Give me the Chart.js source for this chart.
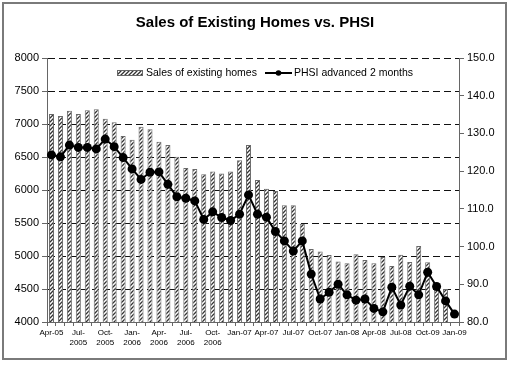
<html>
    <head>
        <title>Sales of Existing Homes vs. PHSI</title>
        <script src="https://cdn.jsdelivr.net/npm/chart.js@4.4.1/dist/chart.umd.min.js"></script>
        <style>
            body { margin: 0; background: #fff; }
            .chart-container { position: relative; width: 510px; height: 365px; }
        </style>
    </head>
    <body>
        <div class="chart-container">
            <canvas id="myChart" width="510" height="365"></canvas>
        </div>
    <script type="text/javascript">
    // monthly categories, Apr-05 .. Jan-09
    var months = ['Apr-05','May-05','Jun-05','Jul-05','Aug-05','Sep-05','Oct-05','Nov-05','Dec-05',
        'Jan-06','Feb-06','Mar-06','Apr-06','May-06','Jun-06','Jul-06','Aug-06','Sep-06','Oct-06','Nov-06','Dec-06',
        'Jan-07','Feb-07','Mar-07','Apr-07','May-07','Jun-07','Jul-07','Aug-07','Sep-07','Oct-07','Nov-07','Dec-07',
        'Jan-08','Feb-08','Mar-08','Apr-08','May-08','Jun-08','Jul-08','Aug-08','Sep-08','Oct-08','Nov-08','Dec-08','Jan-09'];

    // labels shown under every third month (as printed on the original)
    var tickLabels = ['Apr-05', ['Jul-','2005'], ['Oct-','2005'], ['Jan-','2006'], ['Apr-','2006'], ['Jul-','2006'], ['Oct-','2006'],
        'Jan-07','Apr-07','Jul-07','Oct-07','Jan-08','Apr-08','Jul-08','Oct-09','Jan-09'];

    // sales of existing homes (thousands, left axis)
    var sales = [7150,7120,7200,7150,7210,7225,7080,7025,6820,6760,6960,6920,6730,6680,6505,6335,6320,6240,6280,6250,
        6280,6450,6680,6150,6020,5985,5770,5770,5490,5105,5070,5015,4915,4890,5025,4940,4890,4985,4850,5020,
        4910,5150,4905,4550,4500,null];

    // PHSI advanced 2 months (right axis)
    var phsi = [124.3,123.8,126.9,126.3,126.3,125.9,128.5,126.5,123.6,120.6,117.8,119.7,119.8,116.5,113.2,112.8,
        112.1,107.2,109.2,107.7,106.9,108.6,113.7,108.6,107.8,104.0,101.5,98.8,101.5,92.7,86.1,87.9,90.0,87.2,
        85.8,86.1,83.6,82.7,89.2,84.5,89.5,87.2,93.2,89.4,85.6,82.1];

    var seriesNames = ['Sales of existing homes', 'PHSI advanced 2 months'];

    var fontFamily = "'Liberation Sans', Arial, sans-serif";
    Chart.defaults.font.family = fontFamily;
    Chart.defaults.color = '#000';

    var ctx = document.getElementById('myChart').getContext('2d');

    function makeHatchTile() {
        var c = document.createElement('canvas');
        c.width = 4; c.height = 4;
        var g = c.getContext('2d');
        g.fillStyle = '#fff';
        g.fillRect(0, 0, 4, 4);
        g.strokeStyle = '#333';
        g.lineWidth = 1.3;
        g.beginPath();
        g.moveTo(0, 4); g.lineTo(4, 0);
        g.moveTo(-1, 1); g.lineTo(1, -1);
        g.moveTo(3, 5); g.lineTo(5, 3);
        g.stroke();
        return c;
    }
    var hatch = ctx.createPattern(makeHatchTile(), 'repeat');

    var framePlugin = {
        id: 'frame',
        beforeDraw: function (chart) {
            var c = chart.ctx;
            c.save();
            c.fillStyle = '#fff';
            c.fillRect(0, 0, chart.width, chart.height);
            c.strokeStyle = '#7a7a7a';
            c.lineWidth = 2;
            c.strokeRect(3, 3, 503, 356);
            c.restore();
        }
    };

    // legend sits inside the plot area, like the Excel original
    var innerLegend = {
        id: 'innerLegend',
        afterDraw: function (chart) {
            var c = chart.ctx;
            var a = chart.chartArea;
            var y = a.top + 15;
            var x = a.left + 70;
            c.save();
            c.font = '10.5px ' + fontFamily;
            c.textBaseline = 'middle';
            c.fillStyle = '#000';
            // hatched box
            c.fillStyle = hatch;
            c.fillRect(x, y - 3, 26, 6);
            c.strokeStyle = '#666';
            c.lineWidth = 1;
            c.strokeRect(x + 0.5, y - 2.5, 25, 5);
            c.fillStyle = '#000';
            c.fillText(seriesNames[0], x + 29, y);
            // line with marker
            var x2 = x + 148;
            c.strokeStyle = '#000';
            c.lineWidth = 2;
            c.beginPath(); c.moveTo(x2, y); c.lineTo(x2 + 27, y); c.stroke();
            c.beginPath(); c.arc(x2 + 13.5, y, 2.8, 0, Math.PI * 2); c.fill();
            c.fillText(seriesNames[1], x2 + 29, y);
            c.restore();
        }
    };

    var myChart = new Chart(ctx, {
        type: 'bar',
        data: {
            labels: months,
            datasets: [{
                type: 'bar',
                label: seriesNames[0],
                data: sales,
                yAxisID: 'y',
                backgroundColor: hatch,
                borderColor: '#6a6a6a',
                borderWidth: 1,
                categoryPercentage: 1,
                barPercentage: 0.56,
                order: 2
            }, {
                type: 'line',
                label: seriesNames[1],
                data: phsi,
                yAxisID: 'y1',
                borderColor: '#000',
                borderWidth: 2,
                pointRadius: 4.5,
                pointBackgroundColor: '#000',
                pointBorderWidth: 0,
                tension: 0,
                order: 1
            }]
        },
        options: {
            responsive: false,
            animation: false,
            layout: { padding: 0 },
            plugins: {
                title: {
                    display: true,
                    text: 'Sales of Existing Homes vs. PHSI',
                    color: '#000',
                    font: { size: 15, weight: 'bold' },
                    padding: { top: 14, bottom: 26 }
                },
                legend: { display: false },
                tooltip: { enabled: false }
            },
            scales: {
                x: {
                    offset: true,
                    grid: { display: true, drawOnChartArea: false, offset: true, tickLength: 4, color: '#666' },
                    border: { color: '#666', width: 1 },
                    ticks: {
                        autoSkip: false, maxRotation: 0, minRotation: 0, padding: 2,
                        font: { size: 8 },
                        callback: function (v, i) { return i % 3 === 0 ? tickLabels[i / 3] : ''; }
                    },
                    afterFit: function (s) { s.height = 43; }
                },
                y: {
                    position: 'left',
                    min: 4000, max: 8000,
                    grid: { color: '#111', lineWidth: 1, tickLength: 5, tickColor: '#666', tickBorderDash: [] },
                    border: { color: '#666', width: 1, dash: [7, 4] },
                    ticks: { stepSize: 500, padding: 3, font: { size: 11 }, callback: function (v) { return String(v); } },
                    afterFit: function (s) { s.width = 47; }
                },
                y1: {
                    position: 'right',
                    min: 80, max: 150,
                    grid: { drawOnChartArea: false, tickLength: 5, color: '#666' },
                    border: { color: '#666', width: 1 },
                    ticks: { stepSize: 10, padding: 3, font: { size: 11 }, callback: function (v) { return v.toFixed(1); } },
                    afterFit: function (s) { s.width = 51; }
                }
            }
        },
        plugins: [framePlugin, innerLegend]
    });
    </script>
    </body>
</html>
